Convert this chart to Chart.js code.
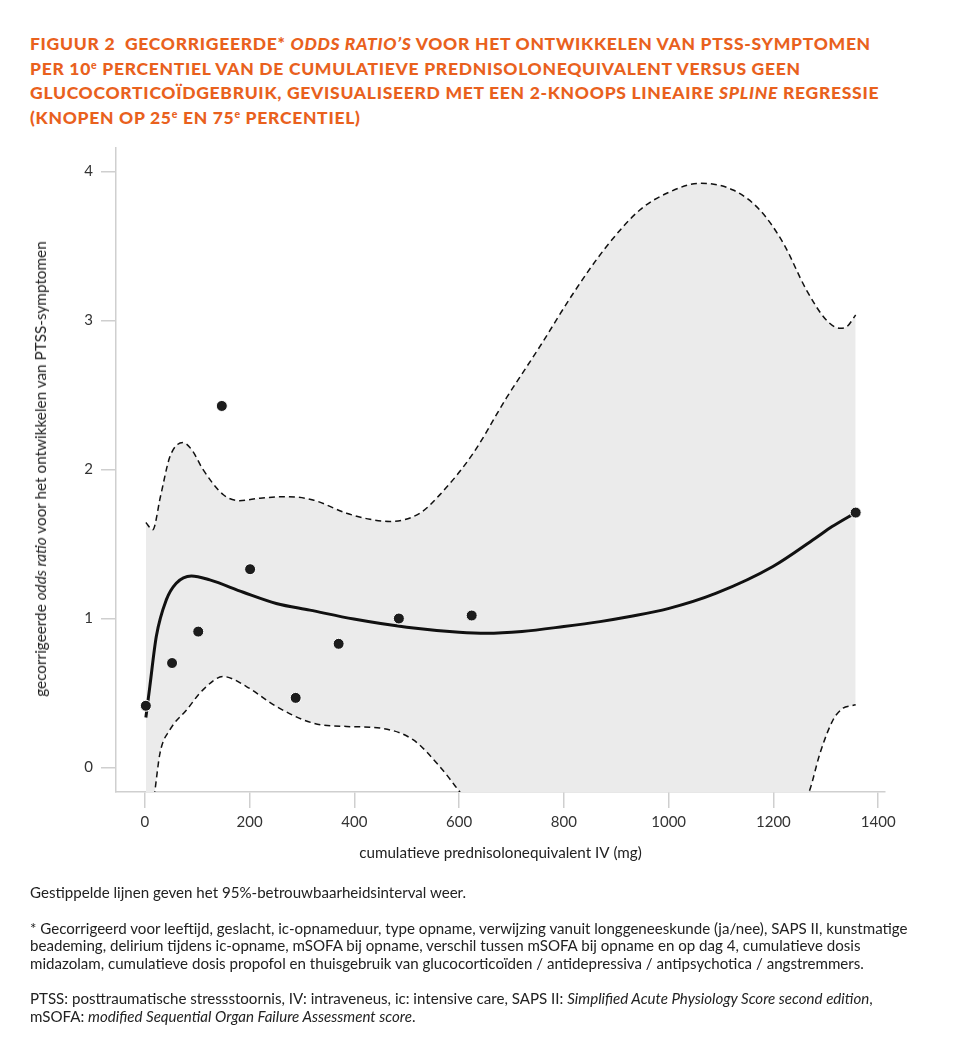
<!DOCTYPE html>
<html>
<head>
<meta charset="utf-8">
<script src="https://cdn.jsdelivr.net/npm/chart.js@4.4.1/dist/chart.umd.min.js"></script>
<style>
  body { margin: 0; background: #fff; }
  #page { position: relative; width: 963px; height: 1059px; background: #fff; overflow: hidden; font-family: Lato, "Open Sans", sans-serif; }
  #title { position: absolute; left: 30px; top: 32px; color: #e9611d; font-weight: 900; font-size: 17.5px; letter-spacing: 0.7px; line-height: 24.5px; white-space: nowrap; }
  #title sup { font-size: 0.6em; line-height: 0; vertical-align: 0.55em; text-transform: none; }
  #chartBox { position: absolute; left: 0; top: 130px; width: 963px; height: 760px; }
  #ylabel { position: absolute; left: 40px; top: 469px; transform: translate(-50%, -50%) rotate(-90deg); font-size: 15.3px; color: #222; white-space: nowrap; }
  #notes { position: absolute; left: 30px; top: 884px; font-size: 15.1px; line-height: 17.5px; color: #222; white-space: nowrap; }
  #notes p { margin: 0 0 18px 0; }
</style>
</head>
<body>
<div id="page">
  <div id="title">
    FIGUUR 2&nbsp; GECORRIGEERDE* <i>ODDS RATIO’S</i> VOOR HET ONTWIKKELEN VAN PTSS-SYMPTOMEN<br>
    PER 10<sup>e</sup> PERCENTIEL VAN DE CUMULATIEVE PREDNISOLONEQUIVALENT VERSUS GEEN<br>
    GLUCOCORTICOÏDGEBRUIK, GEVISUALISEERD MET EEN 2-KNOOPS LINEAIRE <i>SPLINE</i> REGRESSIE<br>
    (KNOPEN OP 25<sup>e</sup> EN 75<sup>e</sup> PERCENTIEL)
  </div>
  <div id="chartBox"><canvas id="chart" width="963" height="760"></canvas></div>
  <div id="ylabel">gecorrigeerde <i>odds ratio</i> voor het ontwikkelen van PTSS-symptomen</div>
  <div id="notes">
    <p>Gestippelde lijnen geven het 95%-betrouwbaarheidsinterval weer.</p>
    <p>* Gecorrigeerd voor leeftijd, geslacht, ic-opnameduur, type opname, verwijzing vanuit longgeneeskunde (ja/nee), SAPS II, kunstmatige<br>
    beademing, delirium tijdens ic-opname, mSOFA bij opname, verschil tussen mSOFA bij opname en op dag 4, cumulatieve dosis<br>
    midazolam, cumulatieve dosis propofol en thuisgebruik van glucocorticoïden / antidepressiva / antipsychotica / angstremmers.</p>
    <p>PTSS: posttraumatische stressstoornis, IV: intraveneus, ic: intensive care, SAPS II: <i>Simplified Acute Physiology Score second edition</i>,<br>
    mSOFA: <i>modified Sequential Organ Failure Assessment score</i>.</p>
  </div>
</div>
<script>
// observed points (per 10th percentile)
const doseX = [2, 52, 102, 147, 201, 288, 370, 485, 624, 1357];
const oddsRatio = [0.413, 0.70, 0.911, 2.426, 1.33, 0.466, 0.829, 0.999, 1.019, 1.71];

// spline fit
const fitX = [2, 9.5, 22, 41, 60, 89, 124, 188, 251, 315, 399, 500, 600, 652, 720, 800, 869, 926, 999, 1091, 1199, 1280, 1312, 1357];
const fitY = [0.334, 0.54, 0.88, 1.124, 1.236, 1.285, 1.258, 1.175, 1.10, 1.055, 0.995, 0.94, 0.907, 0.90, 0.912, 0.945, 0.978, 1.012, 1.065, 1.169, 1.348, 1.538, 1.616, 1.71];

// 95% CI upper
const upperX = [2, 15, 30, 48, 73, 90, 111, 150, 181, 220, 270, 321, 385, 430, 468, 525, 563, 627, 690, 754, 818, 881, 945, 1000, 1060, 1123, 1174, 1219, 1263, 1301, 1327, 1340, 1357];
const upperY = [1.643, 1.594, 1.82, 2.086, 2.18, 2.13, 2.0, 1.83, 1.79, 1.807, 1.817, 1.795, 1.706, 1.665, 1.65, 1.706, 1.829, 2.109, 2.478, 2.824, 3.183, 3.495, 3.742, 3.86, 3.921, 3.876, 3.742, 3.518, 3.205, 3.003, 2.948, 2.958, 3.037];

// 95% CI lower
const lowerX = [2, 10, 19, 29, 48, 80, 111, 150, 194, 251, 321, 385, 449, 512, 563, 598, 650, 750, 900, 1050, 1150, 1230, 1268, 1289, 1314, 1333, 1349, 1357];
const lowerY = [-0.6, -0.4, -0.166, 0.095, 0.252, 0.386, 0.52, 0.609, 0.542, 0.408, 0.297, 0.274, 0.263, 0.185, 0.005, -0.151, -0.4, -0.8, -1.1, -1.1, -0.8, -0.4, -0.166, 0.095, 0.319, 0.397, 0.413, 0.42];

const xTicks = [0, 200, 400, 600, 800, 1000, 1200, 1400];
const yTicks = [0, 1, 2, 3, 4];

const toXY = (xs, ys) => xs.map((x, i) => ({ x: x, y: ys[i] }));

const axisColor = '#cfcfcf';
const tickFont = { family: 'Lato', size: 15 };

new Chart(document.getElementById('chart'), {
  type: 'line',
  data: {
    datasets: [
      {
        type: 'scatter',
        data: toXY(doseX, oddsRatio),
        backgroundColor: '#1c1c1c',
        borderColor: '#ffffff',
        borderWidth: 1,
        pointRadius: 5.5
      },
      {
        data: toXY(fitX, fitY),
        borderColor: '#111111',
        borderWidth: 3,
        pointRadius: 0,
        cubicInterpolationMode: 'monotone',
        fill: false,
        clip: 0
      },
      {
        data: toXY(upperX, upperY),
        borderColor: '#111111',
        borderWidth: 1.5,
        borderDash: [6, 4],
        pointRadius: 0,
        cubicInterpolationMode: 'monotone',
        fill: '+1',
        backgroundColor: '#ebebeb',
        clip: 0
      },
      {
        data: toXY(lowerX, lowerY),
        borderColor: '#111111',
        borderWidth: 1.5,
        borderDash: [6, 4],
        pointRadius: 0,
        cubicInterpolationMode: 'monotone',
        fill: false,
        clip: 0
      }
    ]
  },
  options: {
    responsive: false,
    animation: false,
    layout: { padding: { top: 18, right: 78, bottom: 24, left: 0 } },
    plugins: {
      legend: { display: false },
      tooltip: { enabled: false },
      filler: { drawTime: 'beforeDatasetsDraw' }
    },
    scales: {
      x: {
        type: 'linear',
        min: -55,
        max: 1413,
        afterBuildTicks: s => { s.ticks = xTicks.map(v => ({ value: v })); },
        afterFit: s => { s.height = 74; },
        grid: { drawOnChartArea: false, drawTicks: true, tickLength: 16, color: axisColor, lineWidth: 1.5 },
        border: { color: axisColor, width: 1.5 },
        ticks: { font: tickFont, color: '#333', padding: 5, maxRotation: 0, callback: v => String(v) },
        title: {
          display: true,
          text: 'cumulatieve prednisolonequivalent IV (mg)',
          font: { family: 'Lato', size: 15.2 },
          color: '#222',
          padding: { top: 4, bottom: 4 }
        }
      },
      y: {
        type: 'linear',
        min: -0.166,
        max: 4.158,
        afterBuildTicks: s => { s.ticks = yTicks.map(v => ({ value: v })); },
        afterFit: s => { s.width = 116; },
        grid: { drawOnChartArea: false, drawTicks: true, tickLength: 15, color: axisColor, lineWidth: 1.5 },
        border: { color: axisColor, width: 1.5 },
        ticks: { font: tickFont, color: '#333', padding: 8, callback: v => String(v) }
      }
    }
  }
});
</script>
</body>
</html>
